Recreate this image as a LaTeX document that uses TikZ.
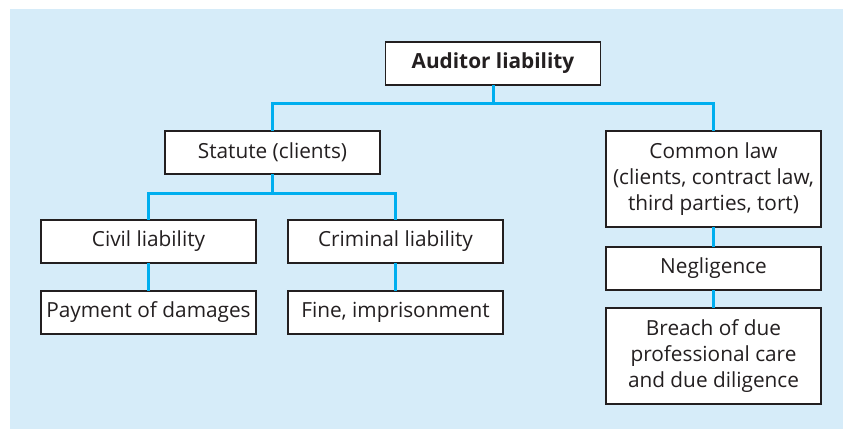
\documentclass[tikz,border=0pt]{standalone}
\usepackage{fontspec}
\setmainfont{Open Sans}
\usetikzlibrary{positioning}
\definecolor{bgblue}{RGB}{214,236,249}
\definecolor{linkblue}{RGB}{0,174,239}
\definecolor{boxgray}{RGB}{35,31,32}
\tikzstyle{block} = [rectangle, draw=boxgray, line width=1.3pt, fill=white,
    align=center, minimum width=215pt, minimum height=43pt, inner sep=0pt,
    outer sep=0pt, text=boxgray, font=\fontsize{20.8}{26}\selectfont]
\tikzstyle{tallblock} = [block, minimum height=96pt]
\tikzstyle{link} = [draw=linkblue, line width=3pt]

\begin{document}
\begin{tikzpicture}[node distance = 28pt, auto]
    \useasboundingbox (0,0) rectangle (843pt,-429pt);
    % background box
    \fill [bgblue] (10pt,-9pt) rectangle (843pt,-429pt);
    % Place nodes
    \node [block, font=\fontsize{20.8}{26}\selectfont\bfseries] (aud) at (493pt,-63.5pt) {Auditor liability};
    \node [block] (stat) at (272.5pt,-152.5pt) {Statute (clients)};
    \node [tallblock] (comm) at (713.5pt,-179pt) {Common law\\(clients, contract law,\\third parties, tort)};
    \node [block] (civ) at (148.5pt,-241.5pt) {Civil liability};
    \node [block] (crim) at (395.5pt,-241.5pt) {Criminal liability};
    \node [block, below=of civ] (pay) {Payment of damages};
    \node [block, below=of crim] (fine) {Fine, imprisonment};
    \node [block, below=20pt of comm] (negl) {Negligence};
    \node [tallblock, below=18pt of negl] (breach) {Breach of due\\professional care\\and due diligence};
    % Draw edges
    \path [link] (aud.south) -- ++(0,-18pt) -| (stat.north);
    \path [link] (aud.south) -- ++(0,-18pt) -| (comm.north);
    \path [link] (stat.south) -- ++(0,-19pt) -| (civ.north);
    \path [link] (stat.south) -- ++(0,-19pt) -| (crim.north);
    \path [link] (civ) -- (pay);
    \path [link] (crim) -- (fine);
    \path [link] (comm) -- (negl);
    \path [link] (negl) -- (breach);
\end{tikzpicture}
\end{document}
